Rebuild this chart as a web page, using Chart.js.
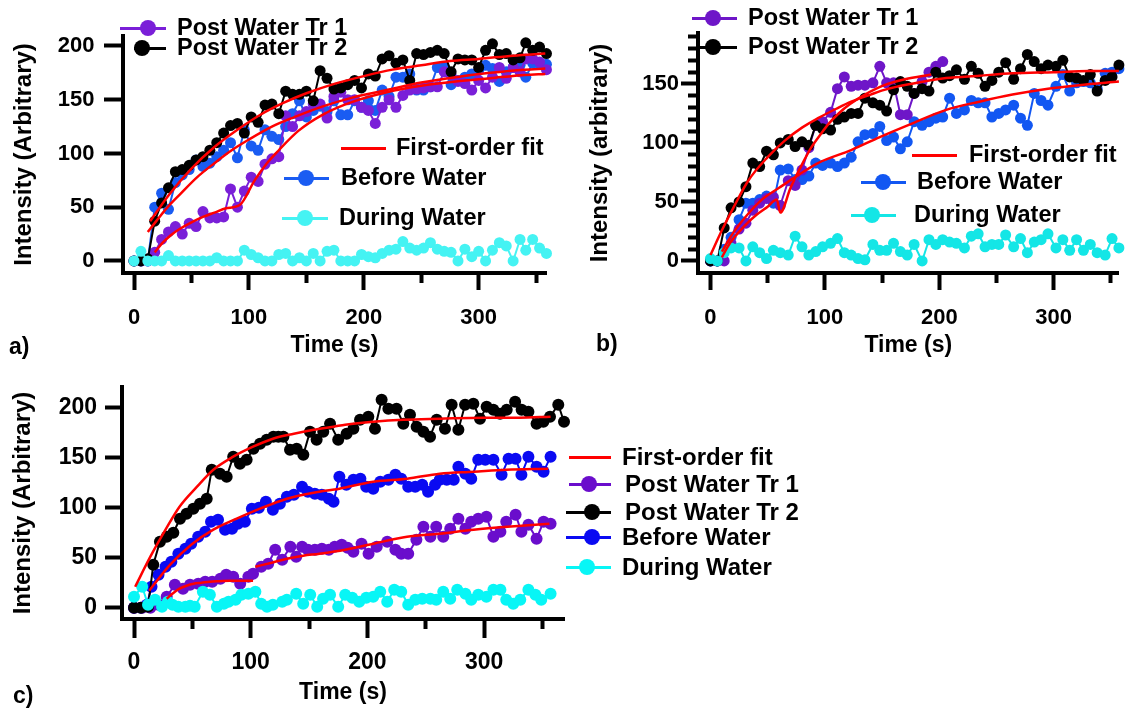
<!DOCTYPE html>
<html>
<head>
<meta charset="utf-8">
<script src="https://cdn.jsdelivr.net/npm/chart.js@4.4.1/dist/chart.umd.min.js"></script>
<style>
html,body{margin:0;padding:0;background:#fff;}
body{position:relative;width:1126px;height:709px;overflow:hidden;font-family:"Liberation Sans",Arial,Helvetica,sans-serif;font-weight:bold;color:#000;}
canvas{position:absolute;}
.lgl{position:absolute;height:3px;}
.lgd{position:absolute;border-radius:50%;}
.lgt{position:absolute;white-space:nowrap;line-height:1;transform:translateY(-50%);}
.pl{position:absolute;font-size:23px;line-height:1;transform:translateY(-50%);}
</style>
</head>
<body>
<canvas id="ca" width="560" height="375" style="left:0;top:0"></canvas>
<canvas id="cb" width="566" height="375" style="left:560px;top:0"></canvas>
<canvas id="cc" width="800" height="369" style="left:0;top:340px"></canvas>
<div class="pl" style="left:9px;top:346px">a)</div>
<div class="pl" style="left:596px;top:343px">b)</div>
<div class="pl" style="left:13px;top:695px">c)</div>
<script>
// ================= DATA =================
// ---- shared tick values ----
const xTickValues = [0, 50, 100, 150, 200, 250, 300, 350];
const xTickLabels = [0, 100, 200, 300];
const aYTicks = [0, 50, 100, 150, 200];
const bYTicks = [0, 10, 20, 30, 40, 50, 60, 70, 80, 90, 100, 110, 120, 130, 140, 150, 160, 170, 180, 190];
const bYLabels = [0, 50, 100, 150];
const cYTicks = [0, 50, 100, 150, 200];

const seriesNames = ['Post Water Tr 1', 'Post Water Tr 2', 'Before Water', 'During Water', 'First-order fit'];

// ---- panel a ----
const aTime = [0,6,12,18,24,30,36,42,48,54,60,66,72,78,84,90,96,102,108,114,120,126,132,138,144,150,156,162,168,174,180,186,192,198,204,210,216,222,228,234,240,246,252,258,264,270,276,282,288,294,300,306,312,318,324,330,336,341,347,353,359];
const aTr1 = [0,0,0,8,20,27,32,25,35,32,46,40,40,41,67,50,65,78,74,90,95,97,135,125,135,139,146,146,133,153,157,150,150,143,140,128,143,150,143,154,159,160,161,162,162,176,173,167,165,159,168,161,171,180,170,180,176,188,188,185,178];
const aTr2 = [0,0,2,37,54,68,83,85,89,94,97,103,110,119,126,128,119,134,129,145,146,137,158,155,155,158,149,177,170,160,161,164,168,161,174,172,188,191,184,187,168,193,192,194,196,193,176,188,187,187,180,196,202,192,193,187,189,203,196,199,193];
const aBefore = [0,0,0,50,63,48,73,80,85,94,88,91,97,103,110,96,122,107,103,122,116,113,125,137,149,134,140,144,139,149,136,136,149,143,149,140,159,153,171,171,174,159,159,162,180,180,164,168,171,174,177,182,179,167,176,180,182,171,184,183,183];
const aDuring = [0,9,0,0,0,5,0,0,0,0,0,0,3,0,0,0,10,6,3,0,0,6,7,0,3,0,7,0,9,10,0,0,0,6,4,3,7,10,11,18,12,10,12,17,11,9,8,0,11,4,9,0,10,17,14,0,20,10,20,12,7];
const aFitTr1T = [18,25,32,40,50,60,70,80,92,105,115,126,143,164,190,220,250,280,310,340,358];
const aFitTr1 = [8,17,24,30,36,41,45,49,52,75,90,103,121,136,148,157,163,167,170,173,174];
const aFitTr2T = [14,30,50,70,90,110,130,150,175,200,225,250,275,300,330,358];
const aFitTr2 = [37,61,86,106,122,136,147,156,165,172,178,182,186,188,191,193];
const aFitBeforeT = [12,20,30,40,55,70,85,100,120,140,165,190,220,250,280,310,340,358];
const aFitBefore = [27,38,51,62,78,91,103,113,125,134,144,152,159,166,171,175,178,179];

// ---- panel b ----
const bTime = [0,6,12,18,25,31,37,43,49,55,61,68,74,80,86,92,98,105,111,117,123,129,135,142,148,154,160,166,172,178,185,191,197,203,209,215,222,228,234,240,246,252,258,265,271,277,283,289,295,302,308,314,320,326,332,338,345,351,357];
const bTr1 = [0,0,0,15,27,32,43,49,53,54,47,68,64,77,96,115,118,126,146,156,148,149,149,151,165,151,151,124,124,142,152,160,165,169];
const bTr2 = [0,0,28,45,50,63,83,80,93,90,100,103,97,101,98,115,112,111,120,122,125,125,138,134,132,127,145,152,148,142,146,144,160,155,157,162,154,165,159,148,153,160,168,154,163,175,169,163,166,165,170,156,155,153,158,144,153,156,166];
const bBefore = [0,0,10,20,35,49,49,52,55,49,77,78,69,69,72,83,81,83,80,83,88,101,107,108,114,102,105,95,101,118,115,118,121,122,138,125,128,136,134,134,122,125,128,132,121,115,142,136,132,148,158,144,151,152,151,146,159,160,163];
const bDuring = [2,0,7,11,11,0,12,7,2,9,7,5,21,12,5,8,12,15,19,7,5,2,1,14,9,9,15,8,5,14,0,18,14,18,16,15,11,21,23,12,14,14,22,12,19,7,16,18,23,11,18,9,18,9,14,7,5,19,11];
const bFitTr1T = [10,15,20,30,40,50,58,61,70,78,88,96,103,112,122,135,152,170,193];
const bFitTr1 = [3,12,19,30,39,46,52,41,62,78,96,107,116,125,133,141,149,154,158];
const bFitTr2T = [0,10,20,33,50,65,80,94,110,123,140,152,175,206,235,264,300,330,357];
const bFitTr2 = [5,26,45,68,88,102,113,121,129,135,141,145,150,155,157,159,160,161,161];
const bFitBeforeT = [10,20,33,45,60,77,94,123,148,175,206,235,264,295,322,357];
const bFitBefore = [8,24,40,52,62,73,83,94,105,116,128,135,141,146,149,152];

// ---- panel c ----
const cTr1T = [0,7,14,21,28,35,42,48,55,61,67,74,79,85,91,98,102,109,115,121,127,134,139,144,149,155,161,167,172,178,183,188,195,201,208,217,224,229,235,242,248,254,259,265,271,278,284,289,295,302,308,314,319,327,332,338,345,351,357];
const cTr1 = [0,0,0,3,11,23,19,23,24,26,26,29,33,31,24,31,34,41,44,58,48,61,51,61,58,58,59,58,61,63,60,56,64,54,61,66,58,54,54,68,81,71,81,71,79,89,79,86,89,91,71,76,86,93,76,83,69,86,84];
const cTr2T = [0,6,12,16.5,22.2,28,33.7,39.4,45,50.8,56.5,62.3,66.6,73.7,79.4,85,90.8,96.5,102.3,108,113.7,119.4,123.7,128,133.7,139.4,145.1,150.8,156.5,162.2,168,175,182.2,188,193.7,200.8,206.5,212.2,218,225,230.8,236.5,242.2,248,253.7,259.4,266.5,272.2,278,283.7,290.8,296.5,302.2,308,313.7,319.4,326.6,332.2,338,345,350.8,356.5,363.6,368.5];
const cTr2 = [0,0,1,43,66,71,75,89,94,99,104,109,138,134,131,151,144,148,159,164,168,171,171,171,158,159,153,176,168,176,184,168,174,179,188,191,179,208,199,199,184,193,181,176,171,188,179,203,178,203,204,189,201,198,194,198,206,198,196,184,186,191,203,186];
const cBeforeT = [0,6,11,15,21,27,32,38,44,49,55,61,66,72,78,84,89,95,101,107,113,119,125,131,137,144,149,155,161,167,171,176,182,188,194,199,205,211,218,224,229,235,241,247,252,258,262,268,274,278,284,289,295,301,308,315,321,327,332,338,345,351,357];
const cBefore = [0,0,3,21,33,41,46,54,59,64,71,76,86,88,78,79,84,86,99,100,106,98,104,111,113,121,116,114,113,109,106,131,123,128,129,121,119,126,128,133,129,121,121,123,116,123,128,128,128,141,134,129,148,148,148,133,149,149,133,151,141,136,151];
const cDuringT = [0,7,12,18,24,29,33,38,44,48,52,59,65,71,77,81,87,92,98,104,109,114,119,127,131,139,145,151,157,162,168,175,181,187,193,199,205,211,217,223,229,235,241,247,254,259,265,271,277,284,289,295,302,308,314,319,325,331,338,344,349,357];
const cDuring = [11,21,3,8,1,6,3,1,1,2,1,16,13,1,4,6,8,13,14,16,4,1,3,6,8,14,4,13,1,9,13,1,13,10,6,10,11,16,6,18,16,3,8,9,9,8,16,9,18,14,8,13,11,18,18,8,4,8,18,13,8,14];
const cFitTr1T = [28,34,39,45,51,58,65,73,82,92,102,103,104,118,131,145,159,181,205,234,262,291,320,356];
const cFitTr1 = [9,15,19,22,24,25,26,26.5,27,27,27,null,41,45,49,52,54,58,64,71,74,78,81,84];
const cFitTr2T = [1,14,27,39,54,68,85,102,119,137,154,171,181,205,231,262,300,330,357];
const cFitTr2 = [21,51,78,101,121,138,151,161,169,174,178,181,183,186,188,189,190,190,191];
const cFitBeforeT = [13,31,49,68,88,108,131,154,176,205,234,262,291,319,355];
const cFitBefore = [17,43,63,78,89,99,109,115,119,126,129,134,136,138,139];

// ================= DRAWING =================
const FONT = '"Liberation Sans", Arial, Helvetica, sans-serif';
const RED = '#ff0000';

function series(t, v, color, r, order) {
  return { data: v.map((y, i) => ({ x: t[i], y: y })), borderColor: color, backgroundColor: color,
    pointBackgroundColor: color, pointBorderColor: color, pointBorderWidth: 0, pointRadius: r,
    pointHoverRadius: r, borderWidth: 2, tension: 0, clip: false, order: order, spanGaps: false };
}
function fitLine(t, v) {
  return { data: v.map((y, i) => ({ x: t[i], y: y })), borderColor: RED, backgroundColor: RED,
    pointRadius: 0, borderWidth: 2.5, cubicInterpolationMode: 'monotone', clip: false, order: 0, spanGaps: false };
}

function panel(id, p) {
  return new Chart(document.getElementById(id), {
    type: 'line',
    data: { datasets: p.datasets },
    options: {
      responsive: false, animation: false, events: [],
      layout: { padding: p.padding },
      plugins: { legend: { display: false }, tooltip: { enabled: false } },
      scales: {
        x: {
          type: 'linear', position: 'bottom', min: p.xMin, max: p.xMax,
          afterBuildTicks: s => { s.ticks = xTickValues.map(v => ({ value: v })); },
          afterFit: s => { s.height = p.xH; },
          border: { display: true, width: 4, color: '#000' },
          grid: { display: true, drawOnChartArea: false, drawTicks: true, tickLength: p.xTL, tickWidth: 4, tickColor: '#000',
            // bottom-axis tick lines run from the axis outward: keep only the first part for minor ticks
            tickBorderDash: c => (c.tick && xTickLabels.includes(c.tick.value)) ? [] : [p.xMinor, 200] },
          ticks: { autoSkip: false, maxRotation: 0, minRotation: 0, padding: p.xPad, color: '#000',
            font: { family: FONT, weight: 'bold', size: p.tickSize },
            callback: v => xTickLabels.includes(v) ? String(v) : '' },
          title: { display: true, text: 'Time (s)', color: '#000',
            font: { family: FONT, weight: 'bold', size: p.xTitleSize }, padding: { top: 0, bottom: p.xTitlePad } }
        },
        y: {
          type: 'linear', position: 'left', min: p.yMin, max: p.yMax,
          afterBuildTicks: s => { s.ticks = p.yTicks.map(v => ({ value: v })); },
          afterFit: s => { s.width = p.yW; },
          border: { display: true, width: 4, color: '#000' },
          grid: { display: true, drawOnChartArea: false, drawTicks: true, tickLength: p.yTL, tickWidth: 4, tickColor: '#000',
            // left-axis tick lines run from the outer end toward the axis: skip the outer part for minor ticks
            tickBorderDash: c => (c.tick && p.yLabels.includes(c.tick.value)) ? [] : [0, p.yTL - 2 - p.yMinor, p.yMinor, 200] },
          ticks: { autoSkip: false, padding: p.yPad, color: '#000',
            font: { family: FONT, weight: 'bold', size: p.tickSize },
            callback: v => p.yLabels.includes(v) ? String(v) : '' },
          title: { display: true, text: p.yTitle, color: '#000',
            font: { family: FONT, weight: 'bold', size: p.yTitleSize }, padding: { top: p.yTitlePad, bottom: 0 } }
        }
      }
    }
  });
}

// colours per panel
const colA = { tr1: '#7a1fd8', tr2: '#000000', before: '#1a5cf2', during: '#45f3f3' };
const colB = { tr1: '#6e16c8', tr2: '#000000', before: '#1257f2', during: '#14e6e6' };
const colC = { tr1: '#6a0dcc', tr2: '#000000', before: '#0a0af2', during: '#08f6f6' };

panel('ca', {
  datasets: [
    fitLine(aFitTr2T, aFitTr2), fitLine(aFitBeforeT, aFitBefore), fitLine(aFitTr1T, aFitTr1),
    series(aTime, aDuring, colA.during, 5.5, 1),
    series(aTime, aTr2, colA.tr2, 5.5, 2),
    series(aTime, aTr1, colA.tr1, 5.5, 3),
    series(aTime, aBefore, colA.before, 5.5, 4)
  ],
  padding: { left: 0, top: 36, right: 14, bottom: 16 },
  xMin: -9.6, xMax: 358.6, yMin: -11.2, yMax: 209.3,
  yW: 123, xH: 86, xTL: 17, xMinor: 8, xPad: 15, yTL: 19, yPad: 9.5,
  yTicks: aYTicks, yLabels: aYTicks, yMinor: 8,
  tickSize: 22, xTitleSize: 23, xTitlePad: 0, yTitleSize: 24, yTitlePad: 10,
  yTitle: 'Intensity (Arbitrary)'
});

panel('cb', {
  datasets: [
    fitLine(bFitTr2T, bFitTr2), fitLine(bFitBeforeT, bFitBefore), fitLine(bFitTr1T, bFitTr1),
    series(bTime, bDuring, colB.during, 5.5, 1),
    series(bTime, bTr2, colB.tr2, 5.5, 2),
    series(bTime.slice(0, bTr1.length), bTr1, colB.tr1, 5.5, 3),
    series(bTime, bBefore, colB.before, 5.5, 4)
  ],
  padding: { left: 0, top: 33, right: 6, bottom: 16 },
  xMin: -10.9, xMax: 356.7, yMin: -10.2, yMax: 193.2,
  yW: 138, xH: 86, xTL: 17, xMinor: 8, xPad: 15, yTL: 17, yPad: 2,
  yTicks: bYTicks, yLabels: bYLabels, yMinor: 8,
  tickSize: 22, xTitleSize: 23, xTitlePad: 0, yTitleSize: 24, yTitlePad: 25.6,
  yTitle: 'Intensity (arbitrary)'
});

panel('cc', {
  datasets: [
    fitLine(cFitTr2T, cFitTr2), fitLine(cFitBeforeT, cFitBefore), fitLine(cFitTr1T, cFitTr1),
    series(cDuringT, cDuring, colC.during, 6, 1),
    series(cTr2T, cTr2, colC.tr2, 6, 2),
    series(cTr1T, cTr1, colC.tr1, 6, 3),
    series(cBeforeT, cBefore, colC.before, 6, 4)
  ],
  padding: { left: 0, top: 47, right: 236, bottom: 3 },
  xMin: -10.3, xMax: 368.5, yMin: -11.3, yMax: 220.7,
  yW: 122, xH: 87, xTL: 19, xMinor: 8, xPad: 11, yTL: 17, yPad: 8,
  yTicks: cYTicks, yLabels: cYTicks, yMinor: 8,
  tickSize: 23, xTitleSize: 23, xTitlePad: 0, yTitleSize: 24, yTitlePad: 8.6,
  yTitle: 'Intensity (Arbitrary)'
});

// ================= LEGENDS (HTML) =================
function legendItem(x1, x2, y, color, dotX, textX, label, size) {
  const l = document.createElement('div');
  l.className = 'lgl';
  l.style.cssText = `left:${x1}px;top:${y - 1.5}px;width:${x2 - x1}px;background:${color}`;
  document.body.appendChild(l);
  if (dotX !== null) {
    const r = 8;
    const d = document.createElement('div');
    d.className = 'lgd';
    d.style.cssText = `left:${dotX - r}px;top:${y - r}px;width:${2 * r}px;height:${2 * r}px;background:${color}`;
    document.body.appendChild(d);
  }
  const t = document.createElement('div');
  t.className = 'lgt';
  t.textContent = label;
  t.style.cssText = `left:${textX}px;top:${y}px;font-size:${size}px`;
  document.body.appendChild(t);
}
// panel a
legendItem(120, 166, 28, colA.tr1, 147.5, 177, seriesNames[0], 23.5);
legendItem(134, 166, 48, colA.tr2, 142, 177, seriesNames[1], 23.5);
legendItem(341, 386, 148, RED, null, 396, seriesNames[4], 23.5);
legendItem(284, 329, 178, colA.before, 306, 341, seriesNames[2], 23.5);
legendItem(282, 328, 218, colA.during, 305, 339, seriesNames[3], 23.5);
// panel b
legendItem(692, 737, 18, colB.tr1, 713, 748, seriesNames[0], 23.5);
legendItem(700, 737, 47, colB.tr2, 713, 748, seriesNames[1], 23.5);
legendItem(912, 957, 155, RED, null, 969, seriesNames[4], 23.5);
legendItem(861, 906, 182, colB.before, 883, 917, seriesNames[2], 23.5);
legendItem(851, 896, 215, colB.during, 872, 914, seriesNames[3], 23.5);
// panel c
legendItem(569, 611, 457, RED, null, 622, seriesNames[4], 24);
legendItem(569, 611, 484, colC.tr1, 589, 625, seriesNames[0], 24);
legendItem(566, 611, 512, colC.tr2, 592, 625, seriesNames[1], 24);
legendItem(566, 611, 537, colC.before, 592, 622, seriesNames[2], 24);
legendItem(566, 611, 567, colC.during, 587, 622, seriesNames[3], 24);
</script>
</body>
</html>
